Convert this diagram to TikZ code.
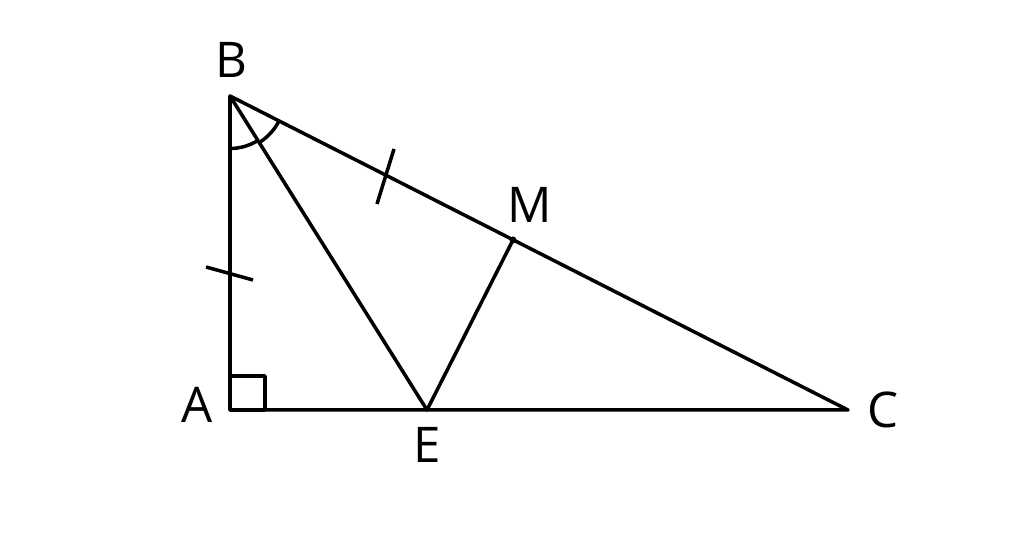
\documentclass[tikz,border=0pt]{standalone}
\usepackage{fontspec}
\setmainfont{Open Sans}
\usetikzlibrary{calc}

\begin{document}
\begin{tikzpicture}[line width=2pt, line join=round,
        lbl/.style={font=\fontsize{28}{34}\selectfont, inner sep=0pt}]
            \useasboundingbox (0, 0) rectangle (20.48, 11.06);
            \coordinate (A) at (4.6, 2.86);
            \coordinate (B) at (4.6, 9.14);
            \coordinate (C) at (16.96, 2.86);
            \coordinate (E) at (8.54, 2.86);
            \coordinate (M) at (10.26, 6.26);
            \draw (A) -- (B) -- (C) -- cycle;
            \draw (B) -- (E) -- (M);
            \fill (M) circle (0.07);
            % right angle at A
            \draw (A) rectangle ($(A) + (0.7, 0.68)$);
            % equal angles at B
            \draw ($(B) + (-90:1.05)$) arc (-90:-58:1.05);
            \draw ($(B) + (-58:1.1)$) arc (-58:-27:1.1);
            % equal sides
            \draw (4.12, 5.72) -- (5.06, 5.46);
            \draw (7.54, 6.98) -- (7.88, 8.08);
            \node[lbl] (lB) at (4.62, 9.86) {B};
            \node[lbl] (lM) at (10.6, 6.96) {M};
            \node[lbl] (lA) at (3.94, 2.96) {A};
            \node[lbl] (lE) at (8.54, 2.16) {E};
            \node[lbl] (lC) at (17.66, 2.86) {C};
        \end{tikzpicture}
\end{document}
